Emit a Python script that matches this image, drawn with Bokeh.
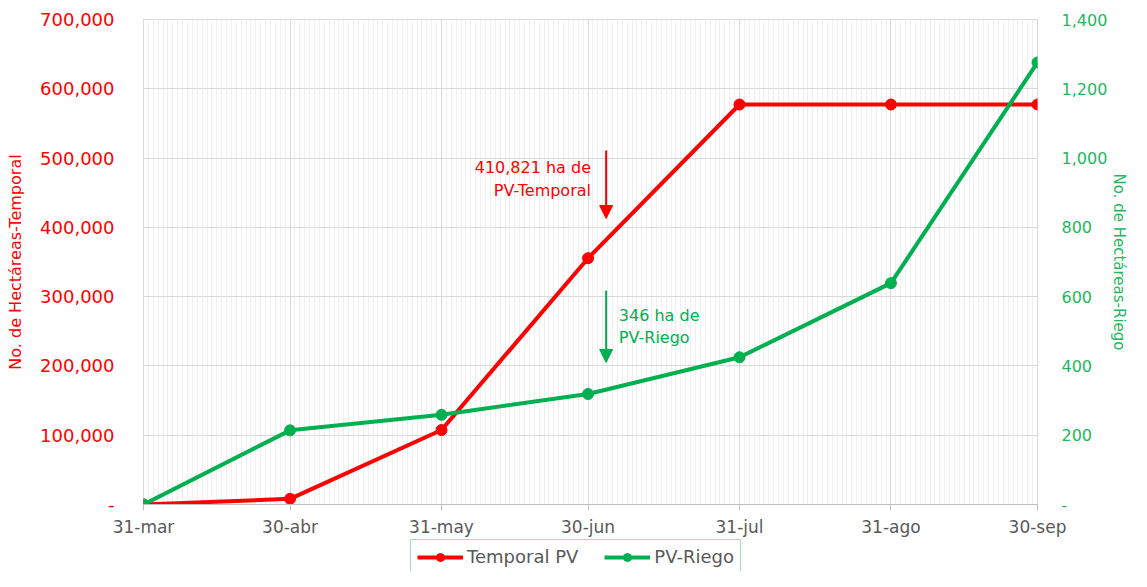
import pandas as pd
from bokeh.plotting import figure
from bokeh.layouts import column
from bokeh.models import (Range1d, LinearAxis, FixedTicker, NumeralTickFormatter,
                          Legend, LegendItem, Label, Arrow, NormalHead, ColumnDataSource)
from bokeh.embed import file_html
from bokeh.resources import INLINE

# ---- data ----
dates = ["2020-03-31", "2020-04-30", "2020-05-31", "2020-06-30",
         "2020-07-31", "2020-08-31", "2020-09-30"]
date_labels = ["31-mar", "30-abr", "31-may", "30-jun", "31-jul", "31-ago", "30-sep"]
temporal = [0, 8200, 107500, 355500, 577300, 577300, 577300]
riego = [0, 214, 259, 319, 425, 639, 1276]
left_ticks = [0, 100000, 200000, 300000, 400000, 500000, 600000, 700000]
right_ticks = [0, 200, 400, 600, 800, 1000, 1200, 1400]
series_names = ["Temporal PV", "PV-Riego"]
note_temporal = ["410,821 ha de", "PV-Temporal"]
note_riego = ["346 ha de", "PV-Riego"]

d = pd.to_datetime(dates)
days = [int(v) for v in (d - d[0]).days]
last_day = days[-1]

RED = "#FF0000"
GREEN = "#00B050"
GREEN_TXT = "#1FB85C"
GRAY_TXT = "#595959"
GRID = "#D9D9D9"
FONT = "DejaVu Sans"

src = ColumnDataSource(dict(x=days, t=temporal, r=riego))

p = figure(width=1131, height=539, x_range=Range1d(0, last_day),
           y_range=Range1d(0, 700000), output_backend="svg", toolbar_location=None,
           min_border_left=143, min_border_right=93, min_border_top=19,
           min_border_bottom=35, background_fill_color="white")
p.extra_y_ranges = {"riego": Range1d(0, 1400)}
p.outline_line_color = GRID

# x axis
xax = p.xaxis[0]
xax.ticker = FixedTicker(ticks=days, minor_ticks=list(range(0, last_day + 1)))
xax.major_label_overrides = {k: v for k, v in zip(days, date_labels)}
xax.major_label_text_font = FONT
xax.major_label_text_font_size = "17px"
xax.major_label_text_color = GRAY_TXT
xax.axis_line_color = "#BFBFBF"
xax.major_tick_line_color = "#BFBFBF"
xax.major_tick_in = 0
xax.major_tick_out = 6
xax.minor_tick_line_color = None
xax.major_label_standoff = 6

# left axis
yax = p.yaxis[0]
yax.ticker = FixedTicker(ticks=left_ticks)
yax.formatter = NumeralTickFormatter(format="0,0")
yax.major_label_overrides = {0: "-"}
yax.axis_label = "No. de Hectáreas-Temporal"
yax.axis_label_text_color = RED
yax.axis_label_text_font = FONT
yax.axis_label_text_font_size = "16px"
yax.axis_label_text_font_style = "normal"
yax.axis_label_standoff = 12
yax.major_label_text_color = RED
yax.major_label_text_font = FONT
yax.major_label_text_font_size = "18px"
yax.major_label_standoff = 23
yax.axis_line_color = None
yax.major_tick_line_color = None
yax.minor_tick_line_color = None

# right axis
rax = LinearAxis(y_range_name="riego", ticker=FixedTicker(ticks=right_ticks),
                 formatter=NumeralTickFormatter(format="0,0"))
rax.major_label_overrides = {0: "-"}
rax.axis_label = "No. de Hectáreas-Riego"
rax.axis_label_text_color = GREEN_TXT
rax.axis_label_text_font = FONT
rax.axis_label_text_font_size = "15px"
rax.axis_label_text_font_style = "normal"
rax.axis_label_standoff = 0
rax.major_label_text_color = GREEN_TXT
rax.major_label_text_font = FONT
rax.major_label_text_font_size = "16px"
rax.major_label_standoff = 18
rax.axis_line_color = None
rax.major_tick_line_color = None
rax.minor_tick_line_color = None
p.add_layout(rax, "right")

# grids
p.xgrid.grid_line_color = GRID
p.xgrid.minor_grid_line_color = "#EFEFEF"
p.ygrid.grid_line_color = GRID
p.ygrid.ticker = FixedTicker(ticks=left_ticks)

# series
p.line("x", "t", source=src, line_color=RED, line_width=4)
p.scatter("x", "t", source=src, size=11, color=RED)
p.line("x", "r", source=src, line_color=GREEN, line_width=4, y_range_name="riego")
p.scatter("x", "r", source=src, size=11, color=GREEN, y_range_name="riego")

# annotations
p.add_layout(Arrow(end=NormalHead(size=13, fill_color=RED, line_color=RED),
                   x_start=94.7, y_start=510900, x_end=94.7, y_end=412800,
                   line_color=RED, line_width=2))
p.add_layout(Arrow(end=NormalHead(size=13, fill_color=GREEN, line_color=GREEN),
                   x_start=94.7, y_start=617.7, x_end=94.7, y_end=409.9,
                   line_color=GREEN, line_width=2, y_range_name="riego"))
for txt, yv in zip(note_temporal, [486400, 453200]):
    p.add_layout(Label(x=91.6, y=yv, text=txt, text_align="right",
                       text_baseline="alphabetic", text_color=RED,
                       text_font=FONT, text_font_size="16px"))
for txt, yv in zip(note_riego, [545.6, 482.0]):
    p.add_layout(Label(x=97.3, y=yv, text=txt, text_align="left",
                       text_baseline="alphabetic", text_color=GREEN,
                       text_font=FONT, text_font_size="16px",
                       y_range_name="riego"))

# ---- legend strip below the chart (same series, drawn outside its view) ----
lf = figure(width=1131, height=32, output_backend="svg", toolbar_location=None,
            x_axis_location=None, y_axis_location=None, min_border=0,
            outline_line_color=None, x_range=Range1d(-2, -1), y_range=Range1d(-2, -1))
lf.xgrid.visible = False
lf.ygrid.visible = False
items = []
for name, col, key in zip(series_names, [RED, GREEN], ["t", "r"]):
    rl = lf.line("x", key, source=src, line_color=col, line_width=4)
    rs = lf.scatter("x", key, source=src, size=7, color=col)
    items.append(LegendItem(label=name, renderers=[rl, rs], index=0))

legend = Legend(items=items, orientation="horizontal", location=(267, -3), margin=0,
                glyph_width=46, glyph_height=20, label_height=21,
                label_standoff=4, spacing=26, padding=6,
                label_text_font=FONT, label_text_font_size="18px",
                label_text_color=GRAY_TXT, border_line_color="#4CC17A",
                border_line_width=1.5, background_fill_alpha=1)
lf.add_layout(legend, "center")

open("out.html", "w").write(file_html(column(p, lf, spacing=0), INLINE))
